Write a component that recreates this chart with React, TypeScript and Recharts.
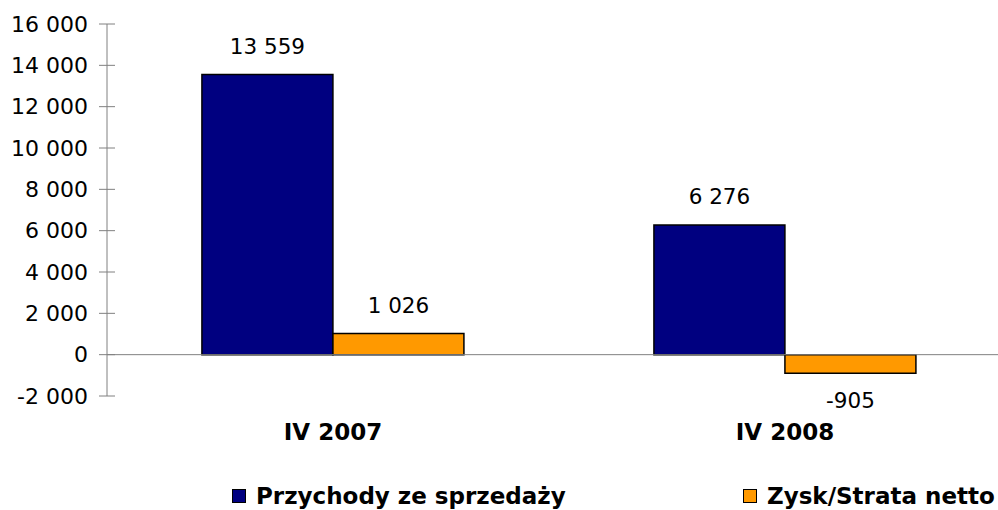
import { BarChart, Bar, XAxis, YAxis, ReferenceLine, LabelList, Legend } from "recharts";

// quarters on the category axis
const quarters = ["IV 2007", "IV 2008"];
// series values (thousand PLN)
const przychody = [13559, 6276];
const zysk = [1026, -905];
const yTicks = [-2000, 0, 2000, 4000, 6000, 8000, 10000, 12000, 14000, 16000];

const SERIES = [
  { key: "przychody", name: "Przychody ze sprzedaży", color: "#000080" },
  { key: "zysk", name: "Zysk/Strata netto", color: "#FF9900" },
];

const FONT = "'DejaVu Sans', Verdana, sans-serif";
const TICK_SIZE = 8;
const TICK_MARGIN = 12;

const fmt = (v: number) =>
  (v < 0 ? "-" : "") + String(Math.abs(v)).replace(/\B(?=(\d{3})+(?!\d))/g, " ");

const data = quarters.map((q, i) => ({
  q,
  przychody: przychody[i],
  zysk: zysk[i],
}));

function ValueLabel(props: any) {
  const { x, y, width, height, value } = props;
  const top = Math.min(y, y + height);
  const bottom = Math.max(y, y + height);
  const neg = value < 0;
  return (
    <text
      x={x + width / 2}
      y={neg ? bottom + 27 : top - 28}
      textAnchor="middle"
      dominantBaseline="central"
      fontFamily={FONT}
      fontSize={21.5}
      fill="#000"
    >
      {fmt(value)}
    </text>
  );
}

// y tick: label plus a tick mark crossing the axis line
function YTick(props: any) {
  const { x, y, payload } = props;
  const axisX = x + TICK_SIZE + TICK_MARGIN;
  return (
    <g>
      <line x1={axisX - 8} x2={axisX + 8} y1={y} y2={y} stroke="#808080" />
      <text
        x={x + 1}
        y={y}
        textAnchor="end"
        dominantBaseline="central"
        fontFamily={FONT}
        fontSize={22}
        fill="#000"
      >
        {fmt(payload.value)}
      </text>
    </g>
  );
}

function XTick(props: any) {
  const { x, y, payload } = props;
  return (
    <text
      x={x}
      y={y}
      textAnchor="middle"
      dominantBaseline="central"
      fontFamily={FONT}
      fontSize={23}
      fontWeight="bold"
      fill="#000"
    >
      {payload.value}
    </text>
  );
}

function LegendContent() {
  return (
    <div style={{ position: "relative", height: 26, fontFamily: FONT }}>
      {SERIES.map((s, i) => (
        <div
          key={s.key}
          style={{
            position: "absolute",
            left: i === 0 ? 232 : 743,
            top: 0,
            display: "flex",
            alignItems: "center",
            whiteSpace: "nowrap",
          }}
        >
          <span
            style={{
              display: "inline-block",
              width: 12,
              height: 12,
              background: s.color,
              border: "1px solid #000",
              marginRight: 10,
            }}
          />
          <span style={{ fontSize: 23, fontWeight: "bold", color: "#000" }}>{s.name}</span>
        </div>
      ))}
    </div>
  );
}

export default function App() {
  return (
    <div
      style={{
        position: "absolute",
        left: 0,
        top: 0,
        width: 998,
        height: 510,
        overflow: "hidden",
        background: "#fff",
      }}
    >
      <BarChart
        width={1015}
        height={510}
        data={data}
        margin={{ top: 24, right: 4, left: 0, bottom: 0 }}
        barGap={0}
        barCategoryGap="21%"
      >
        <XAxis
          dataKey="q"
          axisLine={false}
          tickLine={false}
          tick={<XTick />}
          tickMargin={30}
          height={88}
          interval={0}
        />
        <YAxis
          domain={[-2000, 16000]}
          ticks={yTicks}
          interval={0}
          width={107}
          axisLine={{ stroke: "#808080" }}
          tickLine={false}
          tickSize={TICK_SIZE}
          tickMargin={TICK_MARGIN}
          tick={<YTick />}
        />
        <ReferenceLine y={0} stroke="#808080" />
        {SERIES.map((s) => (
          <Bar
            key={s.key}
            dataKey={s.key}
            name={s.name}
            fill={s.color}
            stroke="#000"
            strokeWidth={1.5}
            isAnimationActive={false}
          >
            <LabelList dataKey={s.key} content={<ValueLabel />} />
          </Bar>
        ))}
        <Legend
          content={<LegendContent />}
          wrapperStyle={{ position: "absolute", left: 0, top: 483, width: 1015 }}
        />
      </BarChart>
    </div>
  );
}
